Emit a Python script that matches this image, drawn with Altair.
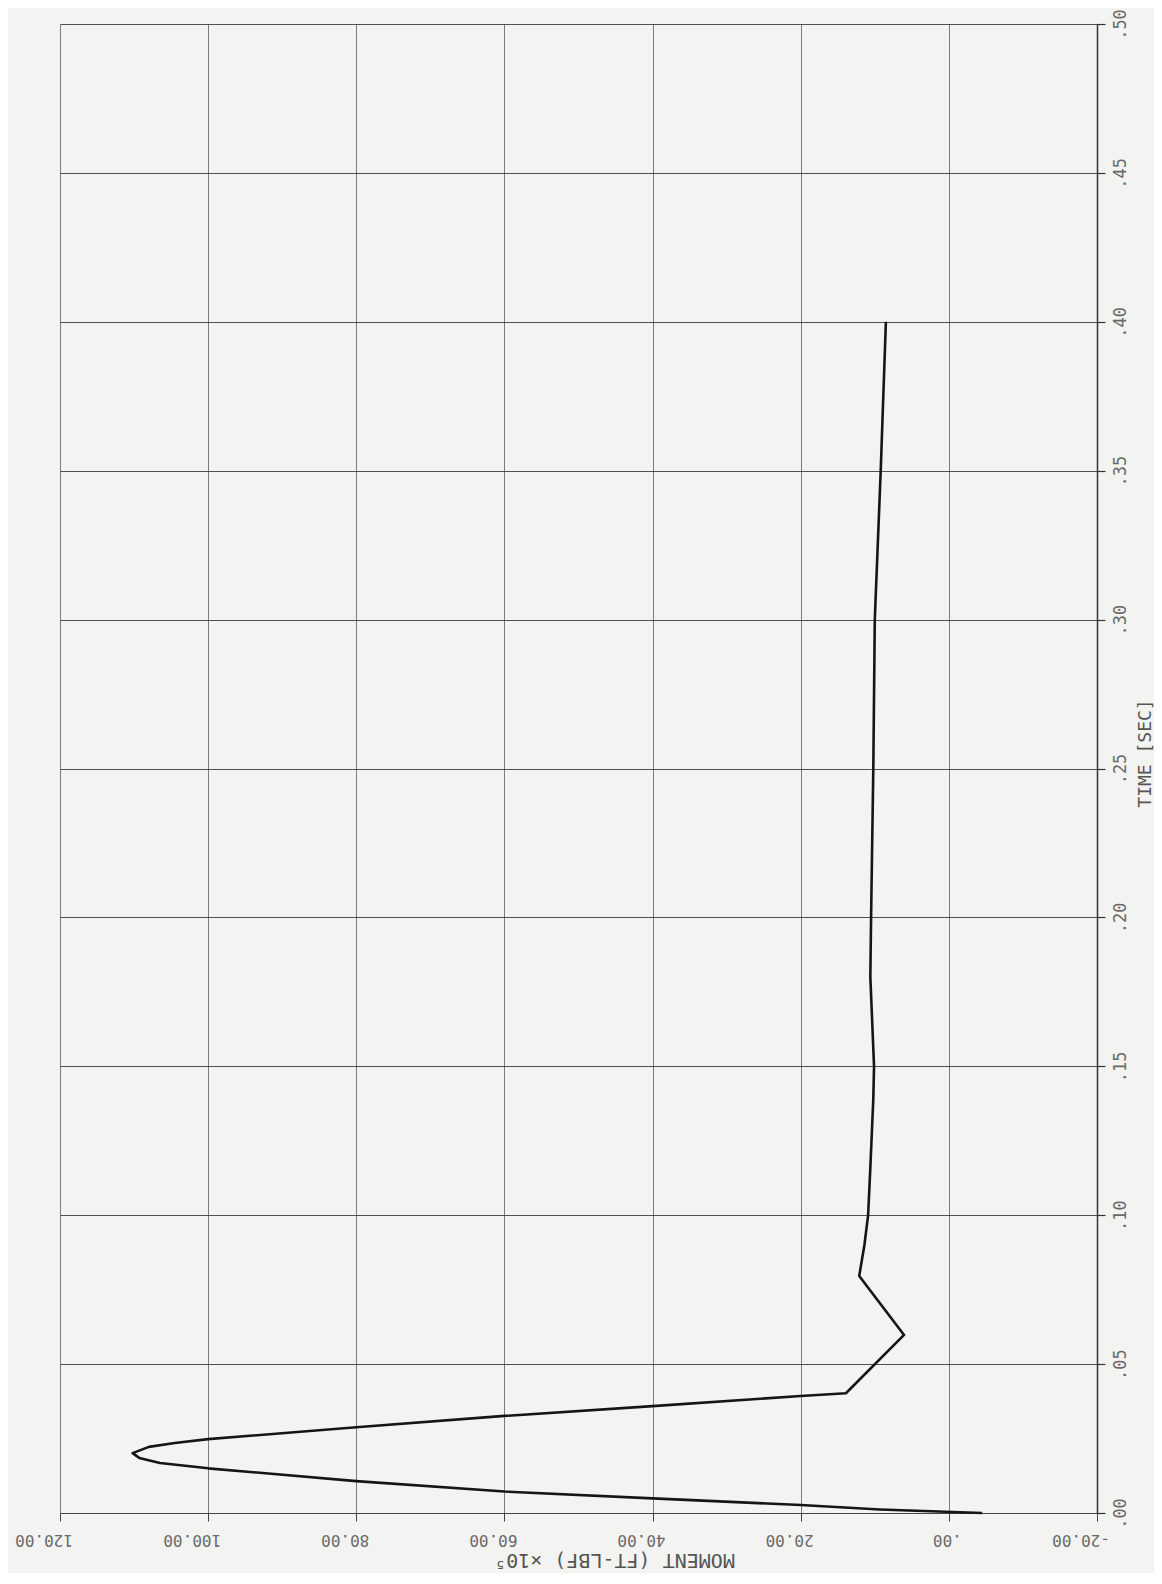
import altair as alt
import pandas as pd

# Time (s) and moment (ft-lbf x 1e5)
time_s = [0.0, 0.0012, 0.0027, 0.0049, 0.0072, 0.0107, 0.0150, 0.0168,
          0.0185, 0.0201, 0.0222, 0.0235, 0.0248, 0.0288, 0.0326, 0.0359,
          0.0393, 0.0402, 0.0598, 0.0796, 0.09, 0.10, 0.116,
          0.139, 0.15, 0.18, 0.20, 0.25, 0.30, 0.35, 0.40]
moment = [-4.5, 9.3, 20.0, 40.0, 60.0, 80.0, 100.0, 106.5,
          109.3, 110.2, 108.0, 104.5, 100.0, 80.0, 60.0, 40.0,
          20.0, 13.9, 6.05, 12.1, 11.4, 10.9, 10.6,
          10.2, 10.1, 10.6, 10.5, 10.2, 10.0, 9.2, 8.5]

x_ticks = [-20, 0, 20, 40, 60, 80, 100, 120]
x_labels = ["-20.00", ".00", "20.00", "40.00", "60.00", "80.00", "100.00", "120.00"]
y_ticks = [0.0, 0.05, 0.10, 0.15, 0.20, 0.25, 0.30, 0.35, 0.40, 0.45, 0.50]

df = pd.DataFrame({"i": list(range(len(time_s))), "t": time_s, "m": moment})
lab_df = pd.DataFrame({"m": x_ticks, "lab": x_labels})

FONT = "DejaVu Sans Mono"
MOM_TITLE = "MOMENT (FT-LBF) ×10⁵"

x_scale = alt.Scale(domain=[-20, 120], reverse=True, nice=False, zero=False)
y_scale = alt.Scale(domain=[0, 0.5], nice=False, zero=False)

line = alt.Chart(df).mark_line(color="#151515", strokeWidth=2.6, strokeJoin="round").encode(
    x=alt.X("m:Q", scale=x_scale,
            axis=alt.Axis(values=x_ticks, orient="bottom", labels=False,
                          tickSize=8, tickColor="#444", tickWidth=1,
                          grid=True, gridColor="#666", gridWidth=1, gridOpacity=0.85,
                          domainColor="#444", domainWidth=1.2,
                          title=MOM_TITLE, titleAngle=180,
                          titleFont=FONT, titleFontSize=20, titleFontWeight="normal",
                          titleColor="#555", titleAlign="center", titleBaseline="middle",
                          titleX=554, titleY=46)),
    y=alt.Y("t:Q", scale=y_scale,
            axis=alt.Axis(values=y_ticks, orient="right",
                          labelExpr="replace(format(datum.value, '.2f'), '0.', '.')",
                          labelAngle=270, labelAlign="center", labelBaseline="middle",
                          labelFont=FONT, labelFontSize=17, labelColor="#6a6a6a",
                          labelPadding=15, labelOverlap=False, labelFlush=False,
                          tickSize=8, tickColor="#333", tickWidth=1.2,
                          grid=True, gridColor="#333", gridWidth=1.2, gridOpacity=0.85,
                          domainColor="#333", domainWidth=1.5,
                          title="TIME [SEC]", titleAngle=270,
                          titleFont=FONT, titleFontSize=18, titleFontWeight="normal",
                          titleColor="#555", titleAlign="center", titleBaseline="middle",
                          titleX=48, titleY=729)),
    order=alt.Order("i:Q"),
)

# Upside-down moment tick labels (the page is rotated), start of text at the right
labels = alt.Chart(lab_df).mark_text(
    angle=180, align="left", baseline="middle", dx=-13, dy=-27,
    font=FONT, fontSize=16, color="#6a6a6a",
).encode(
    x=alt.X("m:Q", scale=x_scale, title=MOM_TITLE),
    y=alt.datum(0),
    text="lab:N",
)

chart = alt.layer(line, labels).properties(
    width=1037, height=1489,
    autosize=alt.AutoSizeParams(type="none"),
    padding={"left": 52, "top": 16, "right": 57, "bottom": 60},
    background="#f3f3f1",
).configure_view(strokeWidth=0)

chart.save("out.html", embed_options={"renderer": "svg", "actions": False})
